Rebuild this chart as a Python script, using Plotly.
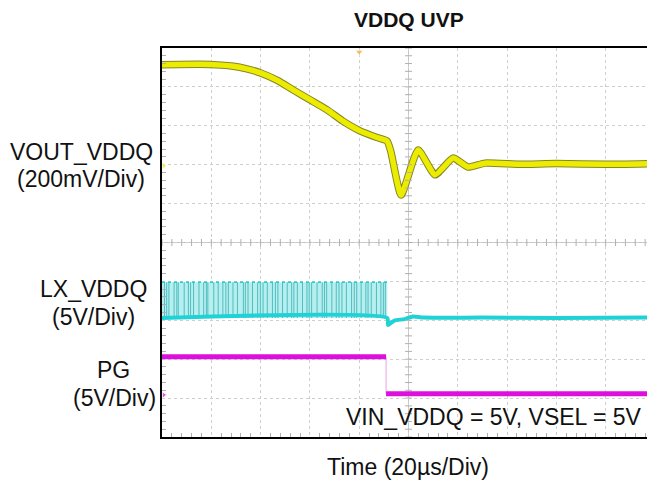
import plotly.graph_objects as go
import numpy as np

# ── Data (time in µs, 20 µs/div; amplitude in screen divisions, 0..10) ─────────
vout_t = [-100, -85, -76, -71, -66, -60, -53, -47, -40, -33, -26.6, -19.7, -12.8,
          -8.7, -7.2, -3.0, 3.9, 10.8, 18.1, 24.1, 31, 45, 60, 80, 100]
vout_div = [9.57, 9.58, 9.56, 9.53, 9.47, 9.36, 9.16, 8.93, 8.67, 8.41, 8.12, 7.87, 7.70,
            7.61, 7.35, 6.22, 7.38, 6.74, 7.17, 6.94, 7.04, 7.01, 7.03, 7.01, 7.03]

lx_t = [-100, -8.6, -8.3, -7.0, -5.5, -1.5, 1.8, 6, 30, 60, 100]
lx_div = [3.06, 3.06, 2.88, 2.94, 3.00, 3.03, 3.10, 3.07, 3.07, 3.06, 3.07]

# switching pulses of LX before UVP trips
lx_pulse_t = [-99.0, -98.1, -97.2, -95.1, -94.0, -93.4, -91.0, -89.3, -88.4, -87.2,
              -85.0, -83.1, -82.0, -81.4, -79.0, -77.2, -75.3, -74.1, -73.1, -71.2,
              -69.4, -67.0, -66.2, -65.1, -63.3, -61.2, -60.1, -59.0, -57.3, -55.2,
              -54.0, -53.0, -51.1, -49.2, -47.4, -46.5, -45.1, -43.0, -41.2, -40.3,
              -39.3, -37.1, -35.0, -34.1, -33.2, -31.1, -29.3, -28.2, -27.0, -25.2,
              -23.1, -22.0, -21.0, -19.2, -17.3, -16.4, -15.1, -13.0, -11.2, -10.2, -9.4]
lx_high = 3.98
lx_low = 3.06
lx_burst = [-100, -8.6]

pg_t = [-100, -9.1, -9.1, 100]
pg_div = [2.06, 2.06, 1.11, 1.11]

# ── Colours ────────────────────────────────────────────────────────────────────
YELLOW = "#ecec00"
YELLOW_EDGE = "#86862a"
CYAN = "#1ed2d6"
CYAN_LIGHT = "#b6eff0"
CYAN_DARK = "#52bcbf"
MAGENTA = "#dc10dc"
GRID = "#cfcfcf"
FONT = "Liberation Sans, Arial, sans-serif"

fig = go.Figure()

# LX switching band
fig.add_trace(go.Scatter(
    x=[lx_burst[0], lx_burst[1], lx_burst[1], lx_burst[0], lx_burst[0]],
    y=[lx_low, lx_low, lx_high, lx_high, lx_low],
    mode="lines", fill="toself", fillcolor=CYAN_LIGHT,
    line=dict(width=0), hoverinfo="skip", showlegend=False,
))
px, py = [], []
for t in lx_pulse_t:
    px += [t, t, None]
    py += [lx_low, lx_high, None]
fig.add_trace(go.Scatter(x=px, y=py, mode="lines",
                         line=dict(color=CYAN_DARK, width=1),
                         hoverinfo="skip", showlegend=False))
fig.add_trace(go.Scatter(x=lx_burst, y=[lx_high, lx_high], mode="lines",
                         line=dict(color=CYAN, width=1.5, dash="dot"),
                         hoverinfo="skip", showlegend=False))
fig.add_trace(go.Scatter(x=lx_t, y=lx_div, mode="lines", name="LX_VDDQ",
                         line=dict(color=CYAN, width=4, shape="spline", smoothing=0.6),
                         showlegend=False))

# PG
fig.add_trace(go.Scatter(x=pg_t[1:3], y=pg_div[1:3], mode="lines",
                         line=dict(color="#e9a0e9", width=1),
                         hoverinfo="skip", showlegend=False))
fig.add_trace(go.Scatter(x=[pg_t[0], pg_t[1], None, pg_t[2], pg_t[3]],
                         y=[pg_div[0], pg_div[1], None, pg_div[2], pg_div[3]],
                         mode="lines", name="PG",
                         line=dict(color=MAGENTA, width=5), showlegend=False))

# VOUT
fig.add_trace(go.Scatter(x=vout_t, y=vout_div, mode="lines", hoverinfo="skip",
                         line=dict(color=YELLOW_EDGE, width=7.5, shape="spline", smoothing=0.5),
                         showlegend=False))
fig.add_trace(go.Scatter(x=vout_t, y=vout_div, mode="lines", name="VOUT_VDDQ",
                         line=dict(color=YELLOW, width=5.5, shape="spline", smoothing=0.5),
                         showlegend=False))

# scope markers (ground refs, trigger)
fig.add_trace(go.Scatter(
    x=[-99.3, -99.3, -20, 98.5],
    y=[6.97, 1.08, 9.9, 7.87],
    mode="markers",
    marker=dict(symbol=["triangle-right", "triangle-right", "triangle-down", "circle"],
                size=[6, 6, 7, 5], color=[YELLOW, MAGENTA, "#f0a020", YELLOW]),
    hoverinfo="skip", showlegend=False,
))

# centre-cross tick marks
cx = np.arange(-100, 100.1, 4)
cy = np.arange(0, 10.01, 0.2)
fig.add_trace(go.Scatter(x=cx, y=[5] * len(cx), mode="markers",
                         marker=dict(symbol="line-ns", size=5, line=dict(color="#b0b0b0", width=1)),
                         hoverinfo="skip", showlegend=False))
fig.add_trace(go.Scatter(x=[0] * len(cy), y=cy, mode="markers",
                         marker=dict(symbol="line-ew", size=5, line=dict(color="#b0b0b0", width=1)),
                         hoverinfo="skip", showlegend=False))

fig.add_shape(type="line", x0=0, x1=0, y0=0, y1=10, line=dict(color="#c4c4c4", width=1), layer="below")
fig.add_shape(type="line", x0=-100, x1=100, y0=5, y1=5, line=dict(color="#c4c4c4", width=1), layer="below")

axis_common = dict(
    showticklabels=False, showgrid=True, gridcolor=GRID, griddash="dot", gridwidth=1,
    zeroline=False, ticks="", fixedrange=True,
)
fig.update_xaxes(range=[-100, 100], dtick=20, showline=True, linecolor="black",
                 linewidth=2, mirror=True,
                 minor=dict(dtick=4, ticks="inside", ticklen=4, tickcolor="#b0b0b0", showgrid=False),
                 **axis_common)
fig.update_yaxes(range=[0, 10], dtick=1, showline=True, linecolor="black",
                 linewidth=2, mirror=False,
                 minor=dict(dtick=0.2, ticks="inside", ticklen=4, tickcolor="#b0b0b0", showgrid=False),
                 **axis_common)

# page body has an 8px margin, so the figure is 8px smaller than the window
PAD = 8
W, H = 655 - PAD, 489 - PAD
L, T, B = 162 - PAD, 48 - PAD, 52
PW, PH = W - L, H - T - B


def xp(x):
    return (x - PAD - L) / PW


def yp(y):
    return (H - B - (y - PAD)) / PH


txt = dict(font=dict(family=FONT, size=23, color="#111111"), showarrow=False,
           xref="paper", yref="paper", yanchor="middle")

fig.update_layout(
    width=W, height=H,
    margin=dict(l=L, r=0, t=T, b=B),
    paper_bgcolor="white", plot_bgcolor="white",
    font=dict(family=FONT),
    annotations=[
        dict(text="<b>VDDQ UVP</b>", x=xp(409), y=yp(20), xanchor="center", yanchor="middle",
             font=dict(family=FONT, size=21, color="#111111"),
             showarrow=False, xref="paper", yref="paper"),
        dict(text="VOUT_VDDQ", x=xp(81), y=yp(152), xanchor="center", **txt),
        dict(text="(200mV/Div)", x=xp(81), y=yp(179), xanchor="center", **txt),
        dict(text="LX_VDDQ", x=xp(93), y=yp(289), xanchor="center", **txt),
        dict(text="(5V/Div)", x=xp(93), y=yp(317), xanchor="center", **txt),
        dict(text="PG", x=xp(113), y=yp(370), xanchor="center", **txt),
        dict(text="(5V/Div)", x=xp(114), y=yp(398), xanchor="center", **txt),
        dict(text="VIN_VDDQ = 5V, VSEL = 5V", x=xp(644), y=yp(417), xanchor="right", **txt),
        dict(text="Time (20µs/Div)", x=xp(408), y=yp(467), xanchor="center", **txt),
    ],
)

fig.write_html("out.html")
